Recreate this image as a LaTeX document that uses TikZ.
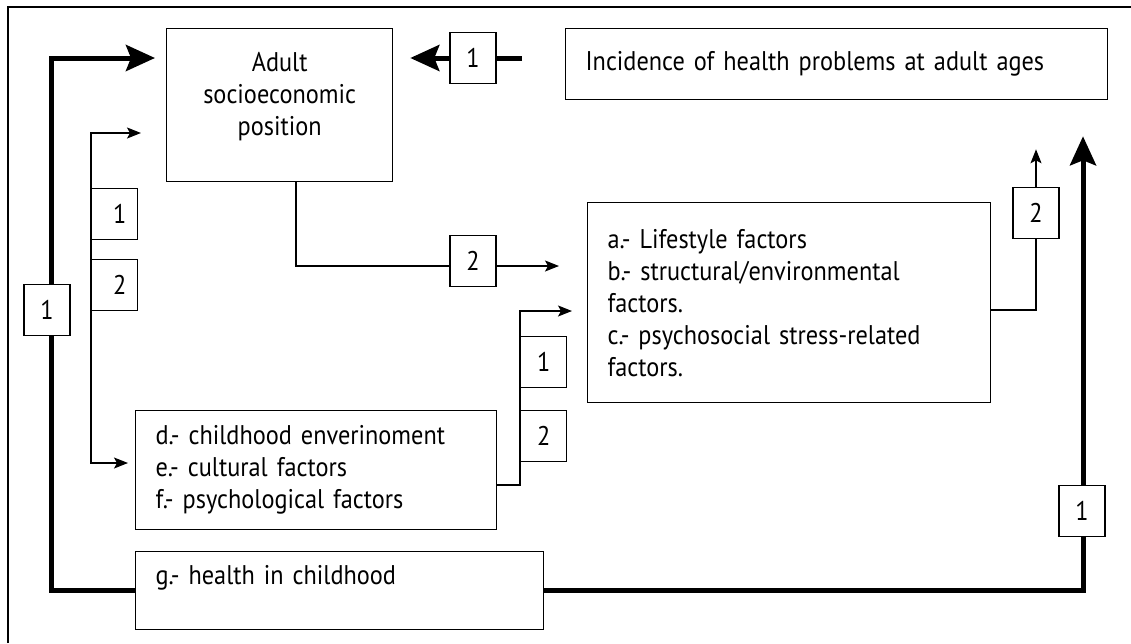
\documentclass[tikz,border=0pt]{standalone}
\usepackage{fontspec}
\setmainfont{PT Sans}[FakeStretch=0.9]
\usetikzlibrary{arrows.meta}
\begin{document}
\begin{tikzpicture}[x=1pt,y=-1pt,
  every node/.style={font=\fontsize{27}{32}\selectfont},
  txtbox/.style={draw, line width=1.3pt, anchor=north west, inner xsep=20pt,
    inner ysep=0pt, align=left},
  numbox/.style={draw, fill=white, line width=1.3pt, minimum width=46pt,
    minimum height=51pt, inner sep=0pt},
  heavy/.style={line width=5pt, -{Stealth[length=29pt,width=26pt,inset=5pt]}},
  light/.style={line width=1.3pt, -{Stealth[length=14pt,width=11pt,inset=3pt]}},
  plain/.style={line width=1.3pt}
]
\useasboundingbox (0,0) rectangle (1131,643);

% outer frame
\draw[line width=1.4pt] (8,643) -- (8,7) -- (1131,7);

% main boxes
\node[txtbox, align=center, text width=186pt, minimum height=153pt] (adult) at (166,28)
  {Adult\\socioeconomic\\position\\[-10pt]\mbox{}};
\node[txtbox, text width=502pt, minimum height=71pt] (inc) at (565,28)
  {Incidence of health problems at adult ages};
\node[txtbox, text width=363pt, minimum height=200pt] (fa) at (587,202)
  {a.- Lifestyle factors\\b.- structural/environmental\\factors.\\c.- psychosocial stress-related\\factors.};
\node[txtbox, text width=321pt, minimum height=119pt] (fd) at (135,410)
  {d.- childhood enverinoment\\e.- cultural factors\\f.- psychological factors};
\node[txtbox, text width=368pt, minimum height=78pt] (fg) at (135,551)
  {g.- health in childhood\\\mbox{}};

% routing points
\coordinate (tl) at (51,58);
\coordinate (bl) at (51,590);
\coordinate (br) at (1083,590);
\coordinate (ta) at (91,133);
\coordinate (tb) at (91,463);
\coordinate (ma) at (296,266);
\coordinate (ra) at (520,485);
\coordinate (rb) at (520,311);
\coordinate (na) at (1036,310);

% heavy connectors
\draw[heavy, shorten >=11pt] (fg.west |- bl) -- (bl) -- (tl) -- (tl -| adult.west);
\draw[heavy, shorten <=43pt, shorten >=17pt] (inc.west |- tl) -- (tl -| adult.east);
\draw[heavy, shorten >=36pt] (fg.east |- br) -- (br) -- (br |- inc.south);

% light connectors
\draw[light, shorten >=28pt] (ma |- adult.south) -- (ma) -- (ma -| fa.west);
\draw[light, {Stealth[length=14pt,width=11pt,inset=3pt]}-{Stealth[length=14pt,width=11pt,inset=3pt]},
  shorten <=25pt, shorten >=7pt] (ta -| adult.west) -- (ta) -- (tb) -- (tb -| fd.west);
\draw[light, shorten >=15pt] (fd.east |- ra) -- (ra) -- (rb) -- (rb -| fa.west);
\draw[light, shorten >=49pt] (fa.east |- na) -- (na) -- (na |- inc.south);

% path labels
\node[numbox] (l1) at (47,310) {1};
\node[numbox] (t1) at (473,58) {1};
\node[numbox] (m2) at (473,261) {2};
\node[numbox, anchor=north west] (s1) at (91,188) {\hspace*{10pt}1};
\node[numbox, anchor=north west] (s2) at (91,259) {\hspace*{10pt}2};
\node[numbox, anchor=north west] (r1) at (520,336) {1};
\node[numbox, anchor=north west] (r2) at (520,410) {2};
\node[numbox] (n2) at (1036,213) {2};
\node[numbox] (b1) at (1082,511) {1};
\end{tikzpicture}
\end{document}
